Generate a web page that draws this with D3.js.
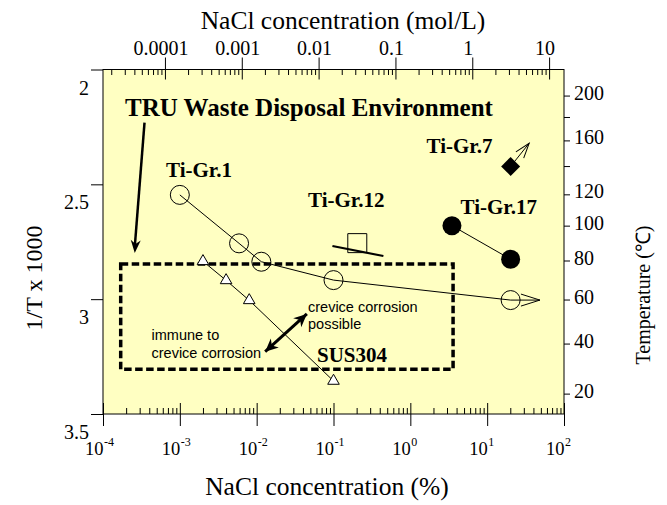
<!DOCTYPE html>
<html><head><meta charset="utf-8">
<script src="https://cdn.jsdelivr.net/npm/d3@7"></script>
<style>body{margin:0;background:#fff}svg{display:block}</style>
</head><body><svg id="chart" width="667" height="505"></svg>
<script>
// NaCl concentration (%) and 1/T x 1000 for each material
const grade1Nacl = [0.001, 0.0059, 0.0115, 0.1, 20.2];
const grade1InvT = [2.546, 2.757, 2.837, 2.917, 3.004];
const sus304Nacl = [0.002, 0.004, 0.008, 0.1];
const sus304InvT = [2.835, 2.918, 3.005, 3.356];
const grade17Nacl = [3.48, 20.2];
const grade17InvT = [2.680, 2.826];
const grade7Nacl = [20.2];
const grade7InvT = [2.422];
const grade12Nacl = [0.204];
const grade12InvT = [2.756];

// axis ticks
const xMajor = [1e-4, 1e-3, 1e-2, 1e-1, 1, 10, 100];
const xExponents = ["-4", "-3", "-2", "-1", "0", "1", "2"];
const yMajor = [2, 2.5, 3, 3.5];
const yLabels = ["2", "2.5", "3", "3.5"];
const molTicks = [0.0001, 0.001, 0.01, 0.1, 1, 10];
const molLabels = ["0.0001", "0.001", "0.01", "0.1", "1", "10"];
const tempTicks = [20, 40, 60, 80, 100, 120, 140, 160, 180, 200];
const tempLabels = [20, 40, 60, 80, 100, 120, 160, 200];

const MOL_TO_PCT = 6.4;                       // top axis: mol/L -> %
const invT = c => 1000 / (c + 273.15);        // right axis: degC -> 1/T x 1000

const serif = "'Liberation Serif','Times New Roman',Times,serif";
const sans = "'Liberation Sans',Arial,Helvetica,sans-serif";

const L = 103, R = 564, T = 69.5, B = 414;
const x = d3.scaleLog().domain([1e-4, 1e2]).range([L, R]);
const y = d3.scaleLinear().domain([2, 3.5]).range([T, B]);

const svg = d3.select("#chart");

// plot background
svg.append("rect").attr("x", L).attr("y", T).attr("width", R - L).attr("height", B - T)
  .attr("fill", "#ffffc2");

// minor ticks per decade
function minors(lo, hi) {
  const out = [];
  for (let e = -6; e <= 3; e++) for (let m = 2; m <= 9; m++) {
    const v = m * Math.pow(10, e);
    if (v > lo && v < hi) out.push(v);
  }
  return out;
}

function strip(g) { g.select(".domain").remove(); g.selectAll("text").remove(); g.selectAll("line").attr("stroke", "#000"); }

// bottom axis (% NaCl)
svg.append("g").attr("transform", `translate(0,${B})`)
  .call(d3.axisBottom(x).tickValues(xMajor).tickSize(12).tickSizeOuter(0)).call(strip);
svg.append("g").attr("transform", `translate(0,${B})`)
  .call(d3.axisTop(x).tickValues(xMajor).tickSize(11).tickSizeOuter(0)).call(strip);
svg.append("g").attr("transform", `translate(0,${B})`)
  .call(d3.axisTop(x).tickValues(minors(1e-4, 1e2)).tickSize(6).tickSizeOuter(0)).call(strip);

const bl = svg.append("g").attr("font-family", serif).attr("fill", "#000");
xMajor.forEach((v, i) => {
  bl.append("text").attr("x", x(v) + 0.5).attr("y", 455).attr("text-anchor", "end")
    .attr("font-size", 18.5).text("10");
  bl.append("text").attr("x", x(v) + 1).attr("y", 446).attr("text-anchor", "start")
    .attr("font-size", 12).text(xExponents[i]);
});
svg.append("text").attr("x", 327).attr("y", 495).attr("text-anchor", "middle")
  .attr("font-family", serif).attr("font-size", 25.5).text("NaCl concentration (%)");

// top axis (mol/L NaCl)
const xm = v => x(v * MOL_TO_PCT);
const molScale = d3.scaleLog().domain([1e-4 / MOL_TO_PCT, 1e2 / MOL_TO_PCT]).range([L, R]);
svg.append("g").attr("transform", `translate(0,${T})`)
  .call(d3.axisTop(molScale).tickValues(molTicks).tickSize(12).tickSizeOuter(0)).call(strip);
svg.append("g").attr("transform", `translate(0,${T})`)
  .call(d3.axisBottom(molScale).tickValues(molTicks).tickSize(10).tickSizeOuter(0)).call(strip);
svg.append("g").attr("transform", `translate(0,${T})`)
  .call(d3.axisBottom(molScale).tickValues(minors(1e-4 / MOL_TO_PCT, 1e2 / MOL_TO_PCT)).tickSize(5.5).tickSizeOuter(0)).call(strip);
molTicks.forEach((v, i) => {
  svg.append("text").attr("x", xm(v) - 4).attr("y", 55).attr("text-anchor", "middle")
    .attr("font-family", serif).attr("font-size", 20).text(molLabels[i]);
});
svg.append("text").attr("x", 343).attr("y", 29).attr("text-anchor", "middle")
  .attr("font-family", serif).attr("font-size", 25.5).text("NaCl concentration (mol/L)");

// left axis (1/T x 1000)
svg.append("g").attr("transform", `translate(${L},0)`)
  .call(d3.axisLeft(y).tickValues(yMajor).tickSize(12).tickSizeOuter(0)).call(strip);
yMajor.forEach((v, i) => {
  svg.append("text").attr("x", 89).attr("y", y(v) + 25).attr("text-anchor", "end")
    .attr("font-family", serif).attr("font-size", 20).text(yLabels[i]);
});
svg.append("text").attr("transform", "translate(42,278) rotate(-90)").attr("text-anchor", "middle")
  .attr("font-family", serif).attr("font-size", 24).text("1/T x 1000");

// right axis (temperature)
const yT = d3.scaleLinear().domain([2, 3.5]).range([T, B]);
svg.append("g").attr("transform", `translate(${R},0)`)
  .call(d3.axisRight(yT).tickValues(tempTicks.map(invT)).tickSize(6).tickSizeOuter(0)).call(strip);
tempLabels.forEach(c => {
  svg.append("text").attr("x", 574).attr("y", yT(invT(c)) + 4).attr("text-anchor", "start")
    .attr("font-family", serif).attr("font-size", 20).text(c);
});
svg.append("text").attr("transform", "translate(650,295) rotate(-90)").attr("text-anchor", "middle")
  .attr("font-family", serif).attr("font-size", 20).text("Temperature (℃)");

// frame
svg.append("rect").attr("x", L).attr("y", T).attr("width", R - L).attr("height", B - T)
  .attr("fill", "none").attr("stroke", "#000").attr("stroke-width", 1);

const plot = svg.append("g");
const pts = (xs, ys) => xs.map((v, i) => [x(v), y(ys[i])]);
const line = d3.line();

// filled arrowhead path pointing along +x from the origin
function headPath(len, half) { return `M0,0L${-len},${-half}L${-len * 0.7},0L${-len},${half}Z`; }
function openHead(g, x1, y1, x2, y2, len, half) {
  const a = Math.atan2(y2 - y1, x2 - x1) * 180 / Math.PI;
  g.append("path").attr("transform", `translate(${x2},${y2}) rotate(${a})`)
    .attr("d", `M${-len},${-half}L0,0L${-len},${half}`).attr("fill", "none").attr("stroke", "#000").attr("stroke-width", 1);
}
function solidHead(g, x1, y1, x2, y2, len, half) {
  const a = Math.atan2(y2 - y1, x2 - x1) * 180 / Math.PI;
  g.append("path").attr("transform", `translate(${x2},${y2}) rotate(${a})`)
    .attr("d", headPath(len, half)).attr("fill", "#000");
}

// environment box
const envBox = { x0: 1.7e-4, x1: 3.6, y0: 2.847, y1: 3.305 };
plot.append("rect").attr("x", x(envBox.x0)).attr("y", y(envBox.y0))
  .attr("width", x(envBox.x1) - x(envBox.x0)).attr("height", y(envBox.y1) - y(envBox.y0))
  .attr("fill", "none").attr("stroke", "#000").attr("stroke-width", 3.5).attr("stroke-dasharray", "7.5,3.5");

// Ti-Gr.1
const g1 = pts(grade1Nacl, grade1InvT);
plot.append("path").attr("d", line(g1)).attr("fill", "none").attr("stroke", "#000").attr("stroke-width", 1);
const g1Tip = [x(48.6), y(grade1InvT[grade1InvT.length - 1])];
const g1Last = g1[g1.length - 1];
plot.append("line").attr("x1", g1Last[0]).attr("y1", g1Last[1]).attr("x2", g1Tip[0]).attr("y2", g1Tip[1]).attr("stroke", "#000");
openHead(plot, g1Last[0], g1Last[1], g1Tip[0], g1Tip[1], 19, 6);
plot.selectAll(".g1").data(g1).join("circle").attr("cx", d => d[0]).attr("cy", d => d[1]).attr("r", 9.5)
  .attr("fill", "none").attr("stroke", "#000").attr("stroke-width", 1);

// SUS304
const s3 = pts(sus304Nacl, sus304InvT);
plot.append("path").attr("d", line(s3)).attr("fill", "none").attr("stroke", "#000").attr("stroke-width", 1);
plot.selectAll(".s3").data(s3).join("path").attr("transform", d => `translate(${d[0]},${d[1]})`)
  .attr("d", d3.symbol(d3.symbolTriangle, 58)).attr("fill", "#fff").attr("stroke", "#000").attr("stroke-width", 1);

// Ti-Gr.17
const g17 = pts(grade17Nacl, grade17InvT);
plot.append("path").attr("d", line(g17)).attr("fill", "none").attr("stroke", "#000").attr("stroke-width", 1);
plot.selectAll(".g17").data(g17).join("circle").attr("cx", d => d[0]).attr("cy", d => d[1]).attr("r", 9.5).attr("fill", "#000");

// Ti-Gr.7 with arrow toward higher values
const g7 = pts(grade7Nacl, grade7InvT);
const g7Tip = [x(35.2), y(2.321)];
plot.append("line").attr("x1", g7[0][0]).attr("y1", g7[0][1]).attr("x2", g7Tip[0]).attr("y2", g7Tip[1]).attr("stroke", "#000");
openHead(plot, g7[0][0], g7[0][1], g7Tip[0], g7Tip[1], 15, 5);
plot.selectAll(".g7").data(g7).join("path").attr("transform", d => `translate(${d[0]},${d[1]}) rotate(45)`)
  .attr("d", d3.symbol(d3.symbolSquare, 180)).attr("fill", "#000");

// Ti-Gr.12
const g12 = pts(grade12Nacl, grade12InvT);
const g12Bar = [[x(0.0968), y(2.7685)], [x(0.446), y(2.812)]];
plot.append("path").attr("d", line(g12Bar)).attr("stroke", "#000").attr("stroke-width", 2.2);
plot.selectAll(".g12").data(g12).join("path").attr("transform", d => `translate(${d[0]},${d[1]})`)
  .attr("d", d3.symbol(d3.symbolSquare, 361)).attr("fill", "none").attr("stroke", "#000").attr("stroke-width", 1);

// TRU arrow
const truFrom = [x(3.47e-4), y(2.2316)], truTo = [x(2.59e-4), y(2.799)];
plot.append("line").attr("x1", truFrom[0]).attr("y1", truFrom[1]).attr("x2", truTo[0]).attr("y2", truTo[1] - 6)
  .attr("stroke", "#000").attr("stroke-width", 2.5);
solidHead(plot, truFrom[0], truFrom[1], truTo[0], truTo[1], 13, 5);

// double arrow between the two regimes
const dA = [x(0.0129), y(3.2287)], dB = [x(0.045), y(3.0645)];
plot.append("line").attr("x1", dA[0]).attr("y1", dA[1]).attr("x2", dB[0]).attr("y2", dB[1]).attr("stroke", "#000").attr("stroke-width", 3);
solidHead(plot, dB[0], dB[1], dA[0], dA[1], 13, 6);
solidHead(plot, dA[0], dA[1], dB[0], dB[1], 13, 6);

// labels
const lab = svg.append("g").attr("font-family", serif).attr("font-weight", "bold").attr("fill", "#000");
lab.append("text").attr("x", 125).attr("y", 116).attr("font-size", 25).text("TRU Waste Disposal Environment");
lab.append("text").attr("x", 166).attr("y", 177).attr("font-size", 21).text("Ti-Gr.1");
lab.append("text").attr("x", 308).attr("y", 207).attr("font-size", 21).text("Ti-Gr.12");
lab.append("text").attr("x", 426.5).attr("y", 153).attr("font-size", 21).text("Ti-Gr.7");
lab.append("text").attr("x", 460.5).attr("y", 213.5).attr("font-size", 21).text("Ti-Gr.17");
lab.append("text").attr("x", 317).attr("y", 362).attr("font-size", 21).text("SUS304");

const note = svg.append("g").attr("font-family", sans).attr("font-size", 14.5).attr("fill", "#000");
note.append("text").attr("x", 308).attr("y", 311.5).text("crevice corrosion");
note.append("text").attr("x", 308).attr("y", 328.5).text("possible");
note.append("text").attr("x", 151.5).attr("y", 340).text("immune to");
note.append("text").attr("x", 151.5).attr("y", 357.5).text("crevice corrosion");
</script></body></html>
